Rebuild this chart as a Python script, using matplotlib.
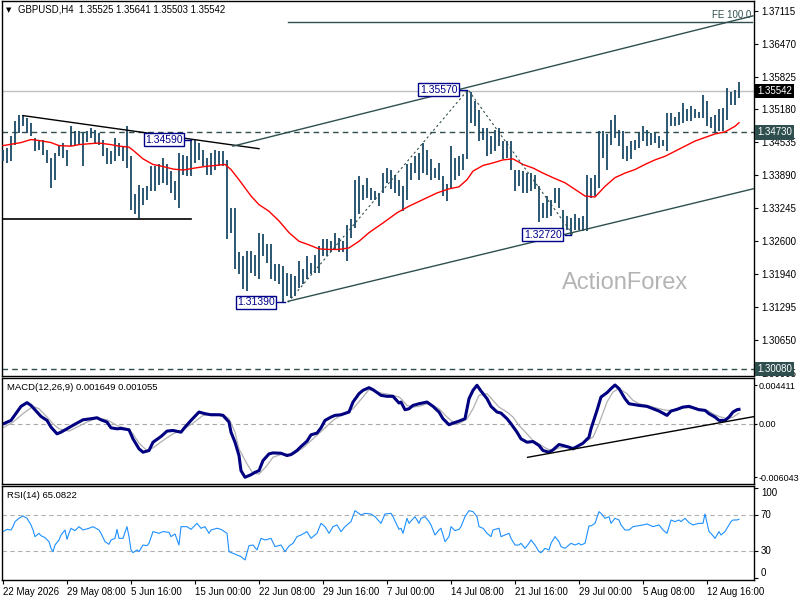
import numpy as np
import matplotlib
matplotlib.use("Agg")
import matplotlib.pyplot as plt

plt.rcParams['font.family'] = ['Liberation Sans', 'DejaVu Sans']

# --- price bars (one sample = two H4 bars) ---
bar_high = [
    1.3439, 1.3442, 1.3465, 1.3495, 1.3508, 1.3508, 1.3501, 1.3491, 1.3462, 1.3459,
    1.3459, 1.3439, 1.3423, 1.3433, 1.3449, 1.3452, 1.3439, 1.3485, 1.3475, 1.3475,
    1.3472, 1.3475, 1.3481, 1.3478, 1.3472, 1.3459, 1.3442, 1.3436, 1.3462, 1.3452,
    1.3446, 1.3485, 1.3426, 1.3351, 1.3370, 1.3364, 1.3367, 1.3406, 1.3406, 1.3410,
    1.3423, 1.3410, 1.3397, 1.3377, 1.3433, 1.3429, 1.3426,
    1.3459, 1.3459, 1.3452, 1.3439, 1.3423, 1.3433, 1.3439, 1.3436, 1.3436, 1.3419,
    1.3325, 1.3325, 1.3237, 1.3230, 1.3240, 1.3240, 1.3233, 1.3276, 1.3273, 1.3253,
    1.3253, 1.3214, 1.3214, 1.3210, 1.3197, 1.3194, 1.3191, 1.3220, 1.3204, 1.3230,
    1.3217, 1.3233, 1.3250, 1.3263, 1.3263, 1.3259, 1.3276, 1.3266, 1.3259, 1.3292,
    1.3302, 1.3380, 1.3387, 1.3370, 1.3384, 1.3364, 1.3357,
    1.3354, 1.3394, 1.3404, 1.3400, 1.3390, 1.3380, 1.3367, 1.3410, 1.3413, 1.3426,
    1.3433, 1.3452, 1.3439, 1.3420, 1.3404, 1.3413, 1.3387, 1.3371, 1.3446, 1.3423,
    1.3426, 1.3430, 1.3557, 1.3553, 1.3534, 1.3517, 1.3482, 1.3482, 1.3465, 1.3478,
    1.3482, 1.3456, 1.3456, 1.3456, 1.3400, 1.3400, 1.3397, 1.3394, 1.3394, 1.3390,
    1.3367, 1.3335, 1.3348, 1.3341, 1.3364, 1.3364,
    1.3321, 1.3308, 1.3305, 1.3312, 1.3305, 1.3308, 1.3390, 1.3384, 1.3390, 1.3475,
    1.3475, 1.3469, 1.3498, 1.3508, 1.3478, 1.3475, 1.3446, 1.3456, 1.3459, 1.3472,
    1.3485, 1.3478, 1.3472, 1.3472, 1.3465, 1.3459, 1.3511, 1.3511, 1.3504, 1.3514,
    1.3531, 1.3518, 1.3524, 1.3518, 1.3514, 1.3547, 1.3534, 1.3504, 1.3508, 1.3518,
    1.3521, 1.3560, 1.3553, 1.3557, 1.3573,
]
bar_low = [
    1.3416, 1.3413, 1.3416, 1.3449, 1.3472, 1.3485, 1.3472, 1.3465, 1.3436, 1.3439,
    1.3429, 1.3413, 1.3364, 1.3380, 1.3426, 1.3423, 1.3406, 1.3446, 1.3446, 1.3449,
    1.3406, 1.3455, 1.3462, 1.3452, 1.3449, 1.3426, 1.3410, 1.3410, 1.3416, 1.3426,
    1.3416, 1.3403, 1.3321, 1.3312, 1.3305, 1.3331, 1.3341, 1.3357, 1.3357, 1.3370,
    1.3374, 1.3370, 1.3354, 1.3341, 1.3325, 1.3390, 1.3387,
    1.3387, 1.3413, 1.3419, 1.3406, 1.3390, 1.3390, 1.3400, 1.3406, 1.3406, 1.3263,
    1.3276, 1.3204, 1.3194, 1.3165, 1.3162, 1.3197, 1.3191, 1.3184, 1.3230, 1.3217,
    1.3184, 1.3181, 1.3175, 1.3139, 1.3152, 1.3148, 1.3152, 1.3168, 1.3175, 1.3184,
    1.3194, 1.3197, 1.3197, 1.3230, 1.3230, 1.3237, 1.3243, 1.3237, 1.3237, 1.3220,
    1.3266, 1.3286, 1.3312, 1.3341, 1.3344, 1.3341, 1.3341,
    1.3328, 1.3354, 1.3374, 1.3361, 1.3354, 1.3348, 1.3318, 1.3341, 1.3380, 1.3394,
    1.3380, 1.3394, 1.3390, 1.3380, 1.3384, 1.3380, 1.3348, 1.3338, 1.3361, 1.3380,
    1.3387, 1.3400, 1.3420, 1.3491, 1.3485, 1.3456, 1.3459, 1.3426, 1.3430, 1.3436,
    1.3446, 1.3420, 1.3423, 1.3400, 1.3358, 1.3367, 1.3354, 1.3354, 1.3358, 1.3361,
    1.3296, 1.3305, 1.3305, 1.3309, 1.3335, 1.3325,
    1.3286, 1.3282, 1.3272, 1.3282, 1.3282, 1.3279, 1.3279, 1.3344, 1.3348, 1.3364,
    1.3423, 1.3400, 1.3449, 1.3462, 1.3446, 1.3420, 1.3416, 1.3420, 1.3439, 1.3442,
    1.3456, 1.3446, 1.3449, 1.3452, 1.3442, 1.3446, 1.3436, 1.3485, 1.3485, 1.3488,
    1.3491, 1.3495, 1.3495, 1.3501, 1.3501, 1.3501, 1.3485, 1.3482, 1.3472, 1.3475,
    1.3475, 1.3498, 1.3527, 1.3527, 1.3540,
]
last_ohlc = [1.35525, 1.35641, 1.35503, 1.35542]

# moving average (red), bar index -> price
ma_idx = [0, 9, 14, 18, 24, 28, 34, 38, 44, 48, 54, 58, 63, 65, 70, 75, 80, 85, 90, 96,
          101, 106, 111, 114, 118, 121, 124, 128, 133, 138, 143, 148, 153, 158, 163, 168,
          173, 178, 183, 190, 197, 203, 210, 217, 223, 228, 232, 235, 240, 245, 250, 255,
          260, 265, 270, 275, 281, 286, 291, 296, 301, 306, 311, 316, 321, 326, 331, 336,
          341, 346, 351, 356, 361, 366, 368]
ma_val = [1.3447, 1.3453, 1.3459, 1.3457, 1.3453, 1.3447, 1.3446, 1.3449, 1.3451, 1.3452,
          1.3449, 1.3446, 1.3444, 1.3438, 1.3421, 1.3410, 1.3406, 1.3401, 1.3399, 1.3403,
          1.3406, 1.3408, 1.3410, 1.3400, 1.3380, 1.3364, 1.3348, 1.3331, 1.3318, 1.3299,
          1.3276, 1.3259, 1.3252, 1.3244, 1.3243, 1.3243, 1.3246, 1.3259, 1.3276, 1.3295,
          1.3315, 1.3328, 1.3341, 1.3354, 1.3362, 1.3366, 1.3380, 1.3397, 1.3408, 1.3413,
          1.3419, 1.3421, 1.3410, 1.3403, 1.3393, 1.3384, 1.3374, 1.3361, 1.3348, 1.3346,
          1.3367, 1.3384, 1.3393, 1.3400, 1.3410, 1.3419, 1.3426, 1.3436, 1.3446, 1.3456,
          1.3463, 1.3470, 1.3474, 1.3485, 1.3492]

# MACD main line
macd_idx = [0, 4, 7, 9, 12, 14, 17, 19, 22, 24, 27, 29, 32, 34, 37, 40, 44, 47, 49, 52,
            54, 57, 59, 63, 65, 68, 70, 73, 75, 79, 82, 85, 89, 91, 94, 98, 101, 104, 108, 110,
            113, 114, 116, 118, 119, 121, 124, 126, 128, 130, 133, 135, 139, 142, 144, 147, 149,
            152, 154, 157, 159, 161, 164, 166, 169, 173, 175, 178, 180, 183, 185, 189, 192, 195,
            198, 199, 201, 203, 205, 208, 212, 215, 218, 220, 223, 225, 228, 231, 233, 235, 237,
            239, 242, 244, 247, 249, 252, 254, 257, 259, 262, 265, 268, 270, 273, 275, 278, 280,
            283, 285, 288, 290, 293, 294, 297, 299, 302, 304, 306, 308, 311, 313, 316, 318, 322,
            325, 328, 332, 334, 337, 340, 343, 345, 348, 351, 353, 356, 358, 361, 363, 365, 367,
            368]
macd_val = [0.0000, 0.0004, 0.00135, 0.00199, 0.00241, 0.00210, 0.00135, 0.00085, 0.00040,
            -0.00036, -0.00112, -0.00093, -0.00055, -0.00028, 0.00009, 0.00047, 0.00059, 0.00070,
            0.00047, 0.00021, -0.00044, -0.00055, -0.00051, -0.00066, -0.00169, -0.00282,
            -0.00320, -0.00301, -0.00207, -0.00142, -0.00081, -0.00074, -0.00093, -0.00036,
            0.00040, 0.00135, 0.00116, 0.00104, 0.00104, 0.00097, 0.00021, -0.00093, -0.00207,
            -0.00358, -0.00529, -0.00604, -0.00575, -0.00548, -0.00529, -0.00415, -0.00339,
            -0.00328, -0.00332, -0.00358, -0.00347, -0.00301, -0.00256, -0.00195, -0.00123,
            -0.00104, -0.00044, 0.00040, 0.00078, 0.00097, 0.00104, 0.00135, 0.00248, 0.00343,
            0.00381, 0.00411, 0.00388, 0.00324, 0.00313, 0.00313, 0.00237,
            0.00248, 0.00161, 0.00172, 0.00210, 0.00229, 0.00248, 0.00199, 0.00135, 0.00059,
            -0.00009, 0.00009, 0.00032, 0.00059, 0.00286, 0.00381, 0.00438, 0.00373, 0.00286,
            0.00199, 0.00135, 0.00123, 0.00059, 0.00002, -0.00093, -0.00169, -0.00207, -0.00199,
            -0.00244, -0.00301, -0.00320, -0.00294, -0.00233, -0.00244, -0.00263, -0.00282,
            -0.00244, -0.00218, -0.00150, -0.00055, 0.00154, 0.00305, 0.00354, 0.00400, 0.00441,
            0.00400, 0.00286, 0.00229, 0.00218, 0.00210, 0.00199, 0.00172, 0.00146, 0.00097,
            0.00146, 0.00165, 0.00191, 0.00199, 0.00184, 0.00161, 0.00154, 0.00116, 0.00078,
            0.00040, 0.00040, 0.00078, 0.00135, 0.00161, 0.00165]

# MACD signal line
signal_idx = [0, 5, 10, 15, 18, 22, 25, 28, 33, 37, 42, 47, 52, 57, 62, 65, 68, 72, 75, 80,
              85, 90, 95, 100, 105, 110, 113, 116, 118, 122, 125, 128, 132, 135, 140, 145, 150,
              155, 160, 165, 170, 175, 180, 183, 189, 193, 198,
              199, 202, 205, 208, 212, 215, 218, 222, 225, 228, 232, 235, 238, 242, 245, 248,
              252, 255, 258, 262, 265, 268, 272, 275, 278, 282, 285, 288, 292, 295, 298, 302,
              305, 308, 312, 315, 318, 322, 325, 328, 332, 335, 338, 342, 345, 348, 352, 355,
              358, 362, 365, 368]
signal_val = [-0.00044, 0.00021, 0.00116, 0.00199, 0.00172, 0.00078, 0.00002, -0.00055,
              -0.00081, -0.00036, 0.00021, 0.00066, 0.00047, -0.00017, -0.00055, -0.00112,
              -0.00218, -0.00301, -0.00271, -0.00188, -0.00112, -0.00066, 0.00009, 0.00097,
              0.00116, 0.00108, 0.00059, -0.00093, -0.00282, -0.00453, -0.00559, -0.00567,
              -0.00472, -0.00377, -0.00339, -0.00347, -0.00271, -0.00169, -0.00066, 0.00040,
              0.00116, 0.00172, 0.00305, 0.00388, 0.00350, 0.00335, 0.00305,
              0.00286, 0.00210, 0.00191, 0.00199, 0.00229, 0.00210, 0.00172, 0.00078, 0.00021,
              0.00002, 0.00059, 0.00172, 0.00324, 0.00343, 0.00267, 0.00191, 0.00135, 0.00078,
              -0.00017, -0.00112, -0.00188, -0.00226, -0.00282, -0.00301, -0.00271, -0.00263,
              -0.00263, -0.00244, -0.00188, -0.00150, 0.00002, 0.00248, 0.00362, 0.00400,
              0.00343, 0.00267, 0.00229, 0.00210, 0.00191, 0.00172, 0.00154, 0.00154, 0.00184,
              0.00184, 0.00184, 0.00172, 0.00154, 0.00116, 0.00085, 0.00059, 0.00078, 0.00123]

# RSI(14)
rsi_idx = [0, 2, 4, 5, 6, 8, 10, 12, 14, 15, 16, 18, 19, 21, 23, 24, 25, 26, 28, 29,
           31, 32, 33, 34, 36, 38, 40, 43, 45, 48, 49, 51, 53, 54, 56, 57, 58, 60, 62, 63,
           64, 65, 67, 68, 70, 72, 73, 75, 78, 80, 83, 84, 86, 88, 89, 92, 94, 97, 99, 101,
           103, 104, 107, 109, 112, 113, 115, 117, 119, 121, 123, 125, 127, 129, 131, 134,
           136, 139, 141, 143, 145, 147, 149, 152, 154, 157, 159, 161, 163, 165, 167, 169,
           171, 174, 176, 179, 181, 184, 186, 189, 191, 194, 195, 198,
           199, 200, 202, 203, 206, 208, 209, 211, 213, 214, 216, 218, 219, 221, 223, 224,
           226, 228, 229, 231, 233, 235, 237, 238, 240, 242, 244, 245, 248, 249, 251, 253,
           254, 256, 258, 259, 261, 263, 264, 266, 268, 269, 271, 273, 274, 276, 278, 279,
           281, 283, 284, 286, 288, 289, 291, 293, 294, 296, 298, 299, 301, 303, 304, 306,
           308, 309, 311, 313, 315, 318, 320, 322, 325, 328, 330, 332, 334, 336, 338, 339,
           341, 343, 345, 348, 350, 351, 353, 354, 356, 358, 359, 361, 364, 365, 367, 368]
rsi_val = [51.9, 54.4, 53.7, 57.4, 63.0, 66.7, 69.3, 66.7, 59.3, 53.7, 46.3, 50.0, 47.4, 45.2,
           40.7, 33.3, 29.6, 37.0, 42.6, 48.1, 53.7, 43.3, 50.0, 55.6, 53.0, 57.4, 53.7, 55.6,
           57.4, 53.7, 50.0, 40.7, 37.8, 42.6, 44.4, 54.4, 44.4, 44.4, 57.4, 46.3, 31.5, 28.5,
           31.5, 29.6, 37.0, 36.3, 38.9, 51.9, 50.0, 51.9, 51.1, 46.3, 49.3, 37.0, 57.4, 57.4,
           54.4, 61.1, 55.6, 57.4, 50.0, 53.7, 55.6, 54.4, 50.0, 29.6, 27.8, 25.9, 24.1, 20.4,
           36.3, 37.0, 31.5, 44.4, 42.6, 44.4, 35.2, 37.0, 29.6, 35.9, 38.9, 46.3, 48.1, 51.9,
           44.4, 50.0, 61.1, 57.4, 50.0, 57.4, 59.3, 51.9, 57.4, 63.0, 75.2, 70.4, 72.2, 71.5,
           68.5, 61.1, 71.5, 72.2, 68.5, 54.4,
           55.6, 50.0, 66.7, 61.1, 68.5, 61.1, 66.7, 68.5, 63.0, 59.3, 48.1, 53.7, 55.6, 40.7,
           46.3, 57.4, 53.0, 54.4, 57.4, 68.5, 75.2, 74.1, 68.5, 57.4, 55.6, 50.0, 46.3, 53.7,
           55.6, 46.3, 48.1, 50.0, 44.4, 37.0, 37.0, 38.9, 33.3, 38.9, 42.6, 37.0, 29.6, 28.5,
           33.3, 31.5, 38.9, 46.3, 40.7, 35.2, 33.3, 37.0, 38.9, 37.0, 38.9, 37.0, 38.9, 58.2,
           58.2, 61.1, 74.1, 72.2, 66.7, 68.5, 61.1, 66.7, 64.8, 59.3, 53.7, 53.7, 57.4, 58.5,
           59.3, 60.4, 57.4, 59.3, 53.7, 50.0, 64.8, 63.0, 64.8, 63.0, 66.7, 61.9, 59.3, 61.1,
           61.1, 71.5, 51.9, 50.0, 44.4, 51.9, 48.1, 51.9, 63.0, 64.8, 64.8, 65.6]
macd_last = [0.001649, 0.001055]
rsi_last = 65.0822

price_ticks = [1.37115, 1.36470, 1.35825, 1.35180, 1.34535, 1.33890, 1.33245,
               1.32600, 1.31940, 1.31295, 1.30650, 1.30005]
date_labels = ['22 May 2026', '29 May 08:00', '5 Jun 16:00', '15 Jun 00:00',
               '22 Jun 08:00', '29 Jun 16:00', '7 Jul 00:00', '14 Jul 08:00',
               '21 Jul 16:00', '29 Jul 00:00', '5 Aug 08:00', '12 Aug 16:00']
date_idx = [32 * i for i in range(len(date_labels))]

BAR = '#1b4a66'
SLATE = '#2f4f4f'
NAVY = '#00008b'

fig = plt.figure(figsize=(8, 6), dpi=100)


def px_axes(x0, y0, x1, y1):
    return fig.add_axes([x0 / 800, 1 - y1 / 600, (x1 - x0) / 800, (y1 - y0) / 600])


ax = px_axes(2, 1, 754, 376)
ax_macd = px_axes(2, 378, 754, 484)
ax_rsi = px_axes(2, 486, 754, 580)

for a in (ax, ax_macd, ax_rsi):
    a.set_xlim(-0.5, 375.5)
    a.yaxis.tick_right()
    a.tick_params(axis='y', direction='out', length=3, width=0.8, labelsize=7, pad=2)
    for s in a.spines.values():
        s.set_linewidth(1)
for a in (ax, ax_macd):
    a.tick_params(axis='x', bottom=False, labelbottom=False)

# ---- main price panel ----
xs = np.arange(0, 2 * len(bar_high), 2)
ax.vlines(xs, bar_low, bar_high, color=BAR, lw=1.3, zorder=3)
ax.plot(ma_idx, ma_val, color='red', lw=1, zorder=4)
ax.set_ylim(1.29943, 1.37312)
ax.set_yticks(price_ticks)
ax.set_yticklabels([f'{p:.5f}' for p in price_ticks])

ax.axhline(last_ohlc[3], color='#c0c0c0', lw=1, zorder=1)
ax.axhline(1.3473, color=SLATE, lw=1, ls=(0, (4, 3)), zorder=2)
ax.axhline(1.3008, color=SLATE, lw=1, ls=(0, (4, 3)), zorder=2)

# trend lines / channel / projection
ax.plot([10, 128], [1.3506, 1.3441], color='black', lw=1, zorder=5)
ax.plot([0, 94], [1.3303, 1.3303], color='black', lw=1.2, zorder=5)
ax.plot([142.5, 376], [1.3141, 1.3363], color=SLATE, lw=1, zorder=5, clip_on=True)
ax.plot([115, 375], [1.3446, 1.3702], color=SLATE, lw=1, zorder=5)
ax.plot([142.5, 374.5], [1.3690, 1.3690], color=SLATE, lw=1, zorder=5)
ax.plot([142.5, 232.5, 285], [1.3139, 1.3557, 1.3272], color=SLATE, lw=0.8,
        ls=(0, (2, 2.5)), zorder=5)
ax.text(374, 1.3693, 'FE 100.0', ha='right', va='bottom', fontsize=7, color=SLATE)

for text, cx, price, l0, l1 in [('1.34590', 80.5, 1.3459, 91, 94),
                                ('1.31390', 126.5, 1.3139, 137, 141),
                                ('1.35570', 217.8, 1.3557, 228, 232),
                                ('1.32720', 269.8, 1.3272, 281, 284)]:
    ax.plot([l0, l1], [price, price], color=NAVY, lw=1, zorder=6)
    ax.text(cx, price, text, ha='center', va='center', fontsize=7.5, color=NAVY, zorder=7,
            bbox=dict(boxstyle='square,pad=0.15', fc='white', ec=NAVY, lw=1))


def tag(a, value, text, bg):
    a.text(1.0045, value, text, transform=a.get_yaxis_transform(), ha='left', va='center',
           fontsize=7, color='white', clip_on=False, zorder=10,
           bbox=dict(boxstyle='square,pad=0.22', fc=bg, ec='none'))


tag(ax, last_ohlc[3], f'{last_ohlc[3]:.5f}', 'black')
tag(ax, 1.3473, '1.34730', SLATE)
tag(ax, 1.3008, '1.30080', SLATE)

fig.text(6 / 800, 1 - 10 / 600, '\u25bc', fontsize=5, va='center', family='DejaVu Sans')
fig.text(18 / 800, 1 - 10 / 600,
         'GBPUSD,H4  ' + ' '.join(f'{v:.5f}' for v in last_ohlc),
         fontsize=6.9, va='center')
fig.text(625 / 800, 1 - 283 / 600, 'ActionForex', ha='center', va='center',
         fontsize=17, color='#b4b4b4')

# ---- MACD panel ----
ax_macd.axhline(0, color='#a8a8a8', lw=0.8, ls=(0, (4, 3)))
ax_macd.plot(signal_idx, signal_val, color='#b0b0b0', lw=0.9)
ax_macd.plot(macd_idx, macd_val, color='#000080', lw=2.2)
ax_macd.plot([262.3, 375.2], [-0.00378, 0.00082], color='black', lw=1)
ax_macd.set_ylim(-0.006802, 0.005204)
ax_macd.set_yticks([0.004411, 0.0, -0.006043])
ax_macd.set_yticklabels(['0.004411', '0.00', '-0.006043'])
ax_macd.tick_params(axis='y', length=2, pad=1, labelsize=6.5)
fig.text(7 / 800, 1 - 387 / 600,
         f'MACD(12,26,9) {macd_last[0]:.6f} {macd_last[1]:.6f}', fontsize=6.8, va='center')

# ---- RSI panel ----
ax_rsi.axhline(70, color='#b0b0b0', lw=0.8, ls=(0, (4, 3)))
ax_rsi.axhline(30, color='#b0b0b0', lw=0.8, ls=(0, (4, 3)))
ax_rsi.plot(rsi_idx, rsi_val, color='#1e90ff', lw=0.8)
ax_rsi.set_ylim(-1.9, 102.6)
ax_rsi.set_yticks([100, 70, 30, 0])
ax_rsi.set_yticklabels(['100', '70', '30', '0'])
for lab, va in zip(ax_rsi.get_yticklabels(), ['top', 'center', 'center', 'bottom']):
    lab.set_va(va)
fig.text(7 / 800, 1 - 496 / 600, f'RSI(14) {rsi_last:.4f}', fontsize=6.8, va='center')

ax_rsi.set_xticks(date_idx)
ax_rsi.set_xticklabels(date_labels)
ax_rsi.tick_params(axis='x', direction='out', length=3, width=0.8, labelsize=7, pad=2)
for lab in ax_rsi.get_xticklabels():
    lab.set_ha('left')

fig.savefig('out.png', dpi=100)
